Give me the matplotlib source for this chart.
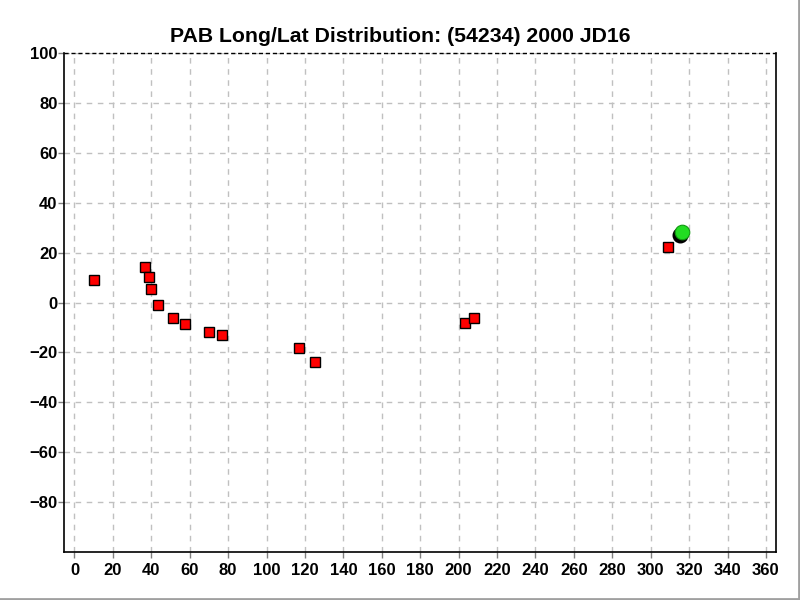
import matplotlib.pyplot as plt
import matplotlib.transforms as mtransforms
from matplotlib.lines import Line2D

# observations (longitude, latitude)
lon = [9.9, 36.9, 39.0, 40.0, 43.5, 51.4, 57.6, 69.8, 76.9, 116.9, 125.2, 203.1, 207.8, 309.1]
lat = [9.2, 14.1, 10.1, 5.6, -0.8, -6.0, -8.4, -11.6, -12.8, -18.1, -23.7, -8.0, -6.0, 22.1]
# current position
cur_lon = [316.2]
cur_lat = [28.2]

xticks = list(range(0, 361, 20))
yticks = list(range(-80, 101, 20))

plt.rcParams['font.family'] = ['Liberation Sans', 'DejaVu Sans']

fig = plt.figure(figsize=(8, 6), dpi=100)
ax = fig.add_axes([0.0804, 0.08, 0.8902, 0.8313])

ax.set_xlim(-5.3, 365.5)
ax.set_ylim(-100, 100)
ax.set_xticks(xticks)
ax.set_yticks(yticks)
ax.tick_params(labelsize=12, length=4, color='#808080', width=1)
ax.tick_params(axis='y', pad=1)
ax.tick_params(axis='x', pad=4)
for lab in ax.get_xticklabels() + ax.get_yticklabels():
    lab.set_fontweight('bold')

ax.grid(True, linestyle=(0, (4, 4)), color='#c0c0c0', linewidth=1)
ax.set_axisbelow(True)
ax.spines['top'].set_visible(False)
ax.axhline(100, color='black', linestyle=(0, (3, 2)), linewidth=1, clip_on=False)
for s in ['left', 'right', 'bottom']:
    ax.spines[s].set_linewidth(1.2)

ax.plot(lon, lat, 's', color='#ff0000', markeredgecolor='black', markeredgewidth=1.0,
        markersize=6.5, linestyle='none')
# shadow then green circle
shadow = ax.transData + mtransforms.ScaledTranslation(-1.5/100, -2.5/100, fig.dpi_scale_trans)
ax.plot(cur_lon, cur_lat, 'o', color='black', markersize=10.5, linestyle='none', transform=shadow)
ax.plot(cur_lon, cur_lat, 'o', color='#22dd22', markeredgecolor='#119911', markeredgewidth=0.8,
        markersize=10.5, linestyle='none')

# title centred on the window, not on the axes
fig.text(0.5, 1 - 37/600, 'PAB Long/Lat Distribution: (54234) 2000 JD16',
         fontsize=15.3, fontweight='bold', ha='center', va='center')

# window frame on right and bottom
fig.add_artist(Line2D([0, 1], [0.001, 0.001], color='#a0a0a0', linewidth=2, transform=fig.transFigure))
fig.add_artist(Line2D([0.999, 0.999], [0, 1], color='#a0a0a0', linewidth=2, transform=fig.transFigure))

plt.savefig('out.png', dpi=100)
